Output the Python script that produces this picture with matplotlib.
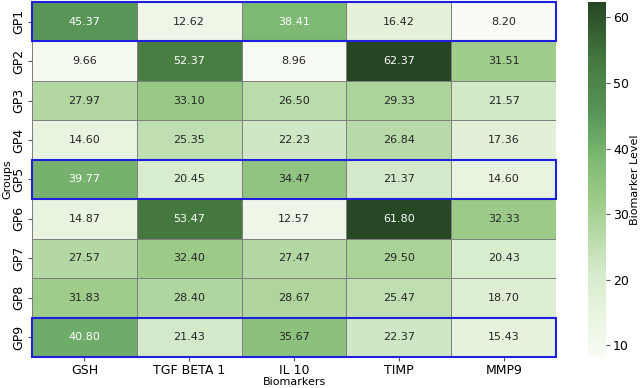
import numpy as np
import matplotlib
matplotlib.use("Agg")
import matplotlib.pyplot as plt
from matplotlib.colors import LinearSegmentedColormap
from matplotlib.patches import Rectangle

groups = ["GP1", "GP2", "GP3", "GP4", "GP5", "GP6", "GP7", "GP8", "GP9"]
biomarkers = ["GSH", "TGF BETA 1", "IL 10", "TIMP", "MMP9"]
gsh = [45.37, 9.66, 27.97, 14.60, 39.77, 14.87, 27.57, 31.83, 40.80]
tgf = [12.62, 52.37, 33.10, 25.35, 20.45, 53.47, 32.40, 28.40, 21.43]
il10 = [38.41, 8.96, 26.50, 22.23, 34.47, 12.57, 27.47, 28.67, 35.67]
timp = [16.42, 62.37, 29.33, 26.84, 21.37, 61.80, 29.50, 25.47, 22.37]
mmp9 = [8.20, 31.51, 21.57, 17.36, 14.60, 32.33, 20.43, 18.70, 15.43]
highlight_rows = ["GP1", "GP5", "GP9"]

data = np.array([gsh, tgf, il10, timp, mmp9]).T

cmap = LinearSegmentedColormap.from_list("g", [
    (0.0, "#f8fcf5"),
    (0.15, "#e4f2da"),
    (0.23, "#d7ebcd"),
    (0.43, "#a0cd8c"),
    (0.56, "#7db973"),
    (0.69, "#589455"),
    (0.82, "#487d42"),
    (1.0, "#264623"),
])

fig = plt.figure(figsize=(6.4, 3.88), dpi=100)
ax = fig.add_axes([0.05, 0.080, 0.819, 0.915])
cax = fig.add_axes([0.919, 0.080, 0.028, 0.915])

nr, nc = data.shape
vmin, vmax = data.min(), data.max()
mesh = ax.pcolormesh(np.arange(nc + 1), np.arange(nr + 1), data, cmap=cmap,
                     vmin=vmin, vmax=vmax, edgecolor="#808080", linewidth=0.5)
ax.set_xlim(0, nc)
ax.set_ylim(nr, 0)
for i in range(nr):
    for j in range(nc):
        v = data[i, j]
        ax.text(j + 0.5, i + 0.5, f"{v:.2f}", ha="center", va="center",
                fontsize=8, color="white" if v > 37 else "#262626")
for g in highlight_rows:
    i = groups.index(g)
    ax.add_patch(Rectangle((0, i), nc, 1, fill=False, edgecolor="#1f1fe0",
                           linewidth=1.5, clip_on=False, zorder=5))
for s in ax.spines.values():
    s.set_visible(False)
ax.set_xticks(np.arange(nc) + 0.5)
ax.set_xticklabels(biomarkers, fontsize=9)
ax.set_yticks(np.arange(nr) + 0.5)
ax.set_yticklabels(groups, fontsize=9, rotation=90, va="center")
ax.tick_params(length=3, color="#555555", pad=2)
ax.set_xlabel("Biomarkers", fontsize=8, labelpad=0)
ax.set_ylabel("Groups", fontsize=8, labelpad=0)

cb = fig.colorbar(mesh, cax=cax)
cb.outline.set_visible(False)
cb.set_ticks([10, 20, 30, 40, 50, 60])
cb.ax.tick_params(labelsize=9, length=3, color="#555555", pad=2)
cb.set_label("Biomarker Level", fontsize=8, labelpad=1)

fig.savefig("out.png", dpi=100)
